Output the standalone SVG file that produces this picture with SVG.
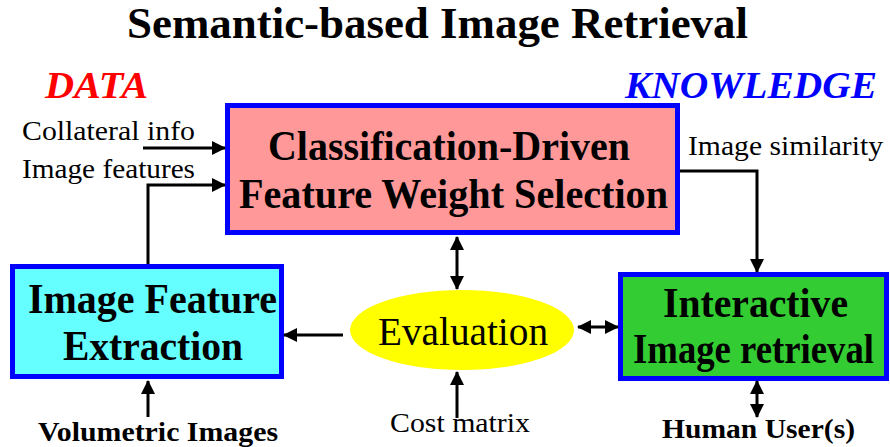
<svg xmlns="http://www.w3.org/2000/svg" width="890" height="447" viewBox="0 0 890 447">
  <defs>
    <marker id="ah" viewBox="0 0 14 14" refX="13" refY="7" markerWidth="14" markerHeight="14" markerUnits="userSpaceOnUse" orient="auto-start-reverse">
      <path d="M0,0 L14,7 L0,14 Z" fill="#000"/>
    </marker>
    <style>
      text { font-family: "Liberation Serif", "Times New Roman", serif; }
      .title { font-size: 44px; font-weight: bold; }
      .tag { font-size: 38px; font-weight: bold; font-style: italic; }
      .big { font-size: 42px; font-weight: bold; }
      .lbl { font-size: 27px; }
      .blbl { font-size: 28px; font-weight: bold; }
      .box { stroke: #0000ff; stroke-width: 5; }
      .conn { fill: none; stroke: #000; stroke-width: 3; }
    </style>
  </defs>
  <rect width="890" height="447" fill="#fff"/>

  <text class="title" x="127" y="38" textLength="621" lengthAdjust="spacingAndGlyphs">Semantic-based Image Retrieval</text>
  <text class="tag" x="45" y="98" fill="#ff0000" textLength="103" lengthAdjust="spacingAndGlyphs">DATA</text>
  <text class="tag" x="625" y="98" fill="#0000ff" textLength="252" lengthAdjust="spacingAndGlyphs">KNOWLEDGE</text>

  <g id="selection">
    <rect class="box" x="227.5" y="105.5" width="450" height="127" fill="#ff9999"/>
    <text class="big" x="268" y="160" textLength="362" lengthAdjust="spacingAndGlyphs">Classification-Driven</text>
    <text class="big" x="239" y="208" textLength="429" lengthAdjust="spacingAndGlyphs">Feature Weight Selection</text>
  </g>

  <g id="extraction">
    <rect class="box" x="12.5" y="266.5" width="269" height="110" fill="#66ffff"/>
    <text class="big" x="28" y="313" textLength="249" lengthAdjust="spacingAndGlyphs">Image Feature</text>
    <text class="big" x="63" y="360" textLength="180" lengthAdjust="spacingAndGlyphs">Extraction</text>
  </g>

  <g id="retrieval">
    <rect class="box" x="620.5" y="274.5" width="266" height="104" fill="#33cc33"/>
    <text class="big" x="663" y="317" font-size="40" textLength="185" lengthAdjust="spacingAndGlyphs">Interactive</text>
    <text class="big" x="633" y="363" font-size="36" textLength="241" lengthAdjust="spacingAndGlyphs">Image retrieval</text>
  </g>

  <g id="evaluation">
    <ellipse cx="462" cy="330" rx="112" ry="40" fill="#ffff00"/>
    <text x="378" y="345" font-size="40" textLength="170" lengthAdjust="spacingAndGlyphs">Evaluation</text>
  </g>

  <g id="labels">
    <text class="lbl" x="22" y="140" textLength="173" lengthAdjust="spacingAndGlyphs">Collateral info</text>
    <text class="lbl" x="22" y="178" textLength="173" lengthAdjust="spacingAndGlyphs">Image features</text>
    <text class="lbl" x="688" y="155" textLength="195" lengthAdjust="spacingAndGlyphs">Image similarity</text>
    <text class="blbl" x="38" y="441" textLength="240" lengthAdjust="spacingAndGlyphs">Volumetric Images</text>
    <text class="lbl" x="390" y="432" textLength="140" lengthAdjust="spacingAndGlyphs">Cost matrix</text>
    <text class="blbl" x="662" y="438" textLength="193" lengthAdjust="spacingAndGlyphs">Human User(s)</text>
  </g>

  <g id="connectors">
    <path class="conn" d="M143,148 H225" marker-end="url(#ah)"/>
    <path class="conn" d="M148,264 V185 H225" marker-end="url(#ah)"/>
    <path class="conn" d="M680,171 H757 V272" marker-end="url(#ah)"/>
    <path class="conn" d="M457,237 V289" marker-start="url(#ah)" marker-end="url(#ah)"/>
    <path class="conn" d="M343,335 H284" marker-end="url(#ah)"/>
    <path class="conn" d="M578,327 H618" marker-start="url(#ah)" marker-end="url(#ah)"/>
    <path class="conn" d="M457,418 V372" marker-end="url(#ah)"/>
    <path class="conn" d="M148,417 V381" marker-end="url(#ah)"/>
    <path class="conn" d="M757,381 V417" marker-start="url(#ah)" marker-end="url(#ah)"/>
  </g>
</svg>
